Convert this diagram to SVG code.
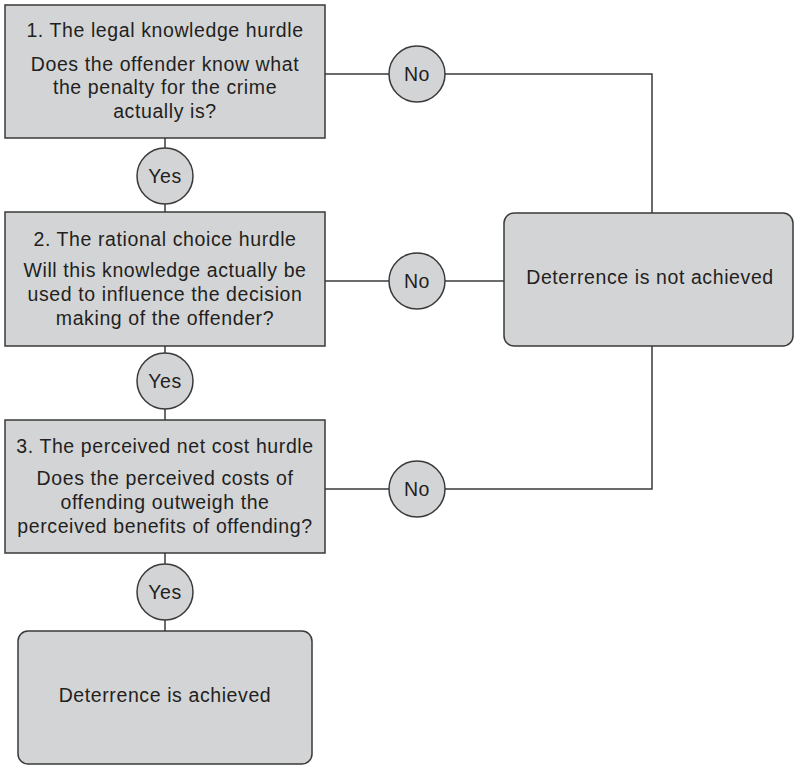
<svg xmlns="http://www.w3.org/2000/svg" width="794" height="765" viewBox="0 0 794 765">
<style>
.box{fill:#d3d4d6;stroke:#3a3a3a;stroke-width:1.5}
.ln{fill:none;stroke:#3a3a3a;stroke-width:1.5}
text{font-family:"Liberation Sans",Arial,sans-serif;font-size:19.5px;letter-spacing:0.6px;fill:#231f20;text-anchor:middle}
</style>
<rect width="794" height="765" fill="#ffffff"/>
<g id="connectors">
<line class="ln" x1="165" y1="138" x2="165" y2="212"/>
<line class="ln" x1="165" y1="346" x2="165" y2="420"/>
<line class="ln" x1="165" y1="553" x2="165" y2="631"/>
<polyline class="ln" points="325,74 652,74 652,213"/>
<line class="ln" x1="325" y1="281" x2="504" y2="281"/>
<polyline class="ln" points="325,489 652,489 652,346"/>
</g>
<g id="box1">
<rect class="box" x="5" y="5" width="320" height="133"/>
<text x="165" y="37">1. The legal knowledge hurdle</text>
<text x="165" y="71">Does the offender know what</text>
<text x="165" y="94">the penalty for the crime</text>
<text x="165" y="118">actually is?</text>
</g>
<g id="box2">
<rect class="box" x="5" y="212" width="320" height="134"/>
<text x="165" y="246">2. The rational choice hurdle</text>
<text x="165" y="277">Will this knowledge actually be</text>
<text x="165" y="301">used to influence the decision</text>
<text x="165" y="325">making of the offender?</text>
</g>
<g id="box3">
<rect class="box" x="5" y="420" width="320" height="133"/>
<text x="165" y="453">3. The perceived net cost hurdle</text>
<text x="165" y="485">Does the perceived costs of</text>
<text x="165" y="509">offending outweigh the</text>
<text x="165" y="533">perceived benefits of offending?</text>
</g>
<g id="yes1">
<circle class="box" cx="165" cy="176" r="28"/>
<text x="165" y="183">Yes</text>
</g>
<g id="yes2">
<circle class="box" cx="165" cy="381" r="28"/>
<text x="165" y="388">Yes</text>
</g>
<g id="yes3">
<circle class="box" cx="165" cy="592" r="28"/>
<text x="165" y="599">Yes</text>
</g>
<g id="no1">
<circle class="box" cx="417" cy="74" r="28"/>
<text x="417" y="81">No</text>
</g>
<g id="no2">
<circle class="box" cx="417" cy="281" r="28"/>
<text x="417" y="288">No</text>
</g>
<g id="no3">
<circle class="box" cx="417" cy="489" r="28"/>
<text x="417" y="496">No</text>
</g>
<g id="notachieved">
<rect class="box" x="504" y="213" width="289" height="133" rx="10"/>
<text x="650" y="284">Deterrence is not achieved</text>
</g>
<g id="achieved">
<rect class="box" x="18" y="631" width="294" height="133" rx="10"/>
<text x="165" y="702">Deterrence is achieved</text>
</g>
</svg>
